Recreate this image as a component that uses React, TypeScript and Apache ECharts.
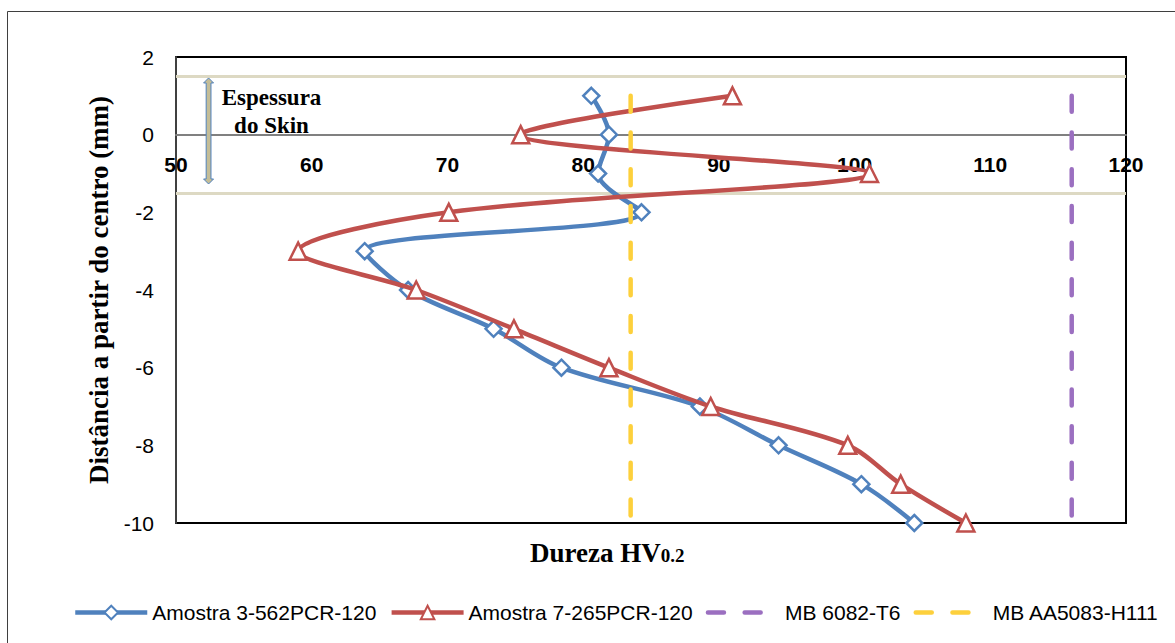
import React, { useEffect, useRef } from "react";
import * as echarts from "echarts";

// ---- data ----
const depthMm = [1, 0, -1, -2, -3, -4, -5, -6, -7, -8, -9, -10];
const amostra3Hv = [80.6, 81.9, 81.1, 84.3, 63.9, 67.1, 73.4, 78.4, 88.6, 94.4, 100.5, 104.4];
const amostra7Hv = [91.0, 75.4, 101.1, 70.1, 59.0, 67.7, 74.9, 81.9, 89.4, 99.5, 103.4, 108.2];
const mb6082Hv = 116;
const mb5083Hv = 83.5;
const baseMetalDepthRange = [1, -10];
const skinLimits = [1.5, -1.5];
const seriesNames = ["Amostra 3-562PCR-120", "Amostra 7-265PCR-120", "MB 6082-T6", "MB AA5083-H111"];
const xRange = { min: 50, max: 120, interval: 10 };
const yRange = { min: -10, max: 2, interval: 2 };
const xAxisCrossesAt = 0;
const arrowSpan = { x: 52.4, top: 1.46, bottom: -1.27 };

const SANS = "'Liberation Sans', Arial, sans-serif";
const SERIF = "'Liberation Serif', 'Times New Roman', serif";

export default function App() {
  const ref = useRef<HTMLDivElement>(null);

  useEffect(() => {
    if (!ref.current) return;
    const chart = echarts.init(ref.current, null, { renderer: "svg" });

    const pts = (xs: number[]) => xs.map((x, i) => [x, depthMm[i]]);
    const vline = (x: number) => baseMetalDepthRange.map((y) => [x, y]);

    const option: any = {
      animation: false,
      backgroundColor: "#ffffff",
      grid: {
        left: 176,
        top: 57,
        right: 49,
        bottom: 120,
        show: true,
        borderColor: "#000000",
        borderWidth: 2,
        backgroundColor: "transparent",
      },
      xAxis: {
        type: "value",
        position: "bottom",
        min: xRange.min,
        max: xRange.max,
        interval: xRange.interval,
        axisLine: { show: true, onZero: false, lineStyle: { color: "#808080", width: 2 } },
        axisTick: { show: false },
        splitLine: { show: false },
        axisLabel: {
          fontFamily: SANS,
          fontSize: 21,
          fontWeight: "bold",
          color: "#000000",
          margin: 19,
        },
        z: 1,
      },
      yAxis: {
        type: "value",
        min: yRange.min,
        max: yRange.max,
        interval: yRange.interval,
        name: "Distância a partir do centro (mm)",
        nameLocation: "middle",
        nameRotate: 90,
        nameGap: 56,
        nameTextStyle: {
          fontFamily: SERIF,
          fontSize: 27,
          fontWeight: "bold",
          color: "#000000",
        },
        axisLine: { show: true, lineStyle: { color: "#404040", width: 2 } },
        axisTick: { show: false },
        splitLine: { show: false },
        axisLabel: {
          fontFamily: SANS,
          fontSize: 21,
          color: "#000000",
          margin: 22,
        },
      },
      legend: {
        left: 73,
        top: 602,
        padding: 0,
        itemWidth: 72,
        itemHeight: 17,
        itemGap: 13,
        lineStyle: { width: 4.5 },
        textStyle: { fontFamily: SANS, fontSize: 21, color: "#000000" },
        data: [
          { name: seriesNames[0] },
          { name: seriesNames[1] },
          { name: seriesNames[2], itemStyle: { opacity: 0 } },
          { name: seriesNames[3], itemStyle: { opacity: 0 } },
        ],
      },
      series: [
        {
          name: seriesNames[0],
          type: "line",
          data: pts(amostra3Hv),
          smooth: 0.33,
          symbol: "diamond",
          symbolSize: 16,
          lineStyle: { color: "#4f81bd", width: 4.5 },
          itemStyle: { color: "#ffffff", borderColor: "#4f81bd", borderWidth: 2.5 },
          z: 3,
          markLine: {
            silent: true,
            symbol: "none",
            label: { show: false },
            lineStyle: { color: "#ddd9c3", width: 3, type: "solid" },
            data: skinLimits.map((y) => ({ yAxis: y })),
            z: 1,
          },
        },
        {
          name: seriesNames[1],
          type: "line",
          data: pts(amostra7Hv),
          smooth: 0.33,
          symbol: "triangle",
          symbolSize: 17,
          lineStyle: { color: "#c0504d", width: 4.5 },
          itemStyle: { color: "#ffffff", borderColor: "#c0504d", borderWidth: 2.5 },
          z: 4,
        },
        {
          name: seriesNames[2],
          type: "line",
          data: vline(mb6082Hv),
          symbol: "none",
          lineStyle: { color: "#9b6fc0", width: 4.5, type: [16, 20.7], cap: "round" },
          itemStyle: { color: "#9b6fc0" },
          z: 5,
        },
        {
          name: seriesNames[3],
          type: "line",
          data: vline(mb5083Hv),
          symbol: "none",
          lineStyle: { color: "#fdd03c", width: 4.5, type: [16, 20.7], cap: "round" },
          itemStyle: { color: "#fdd03c" },
          z: 5,
        },
      ],
    };

    chart.setOption(option);

    // move the x axis so that it crosses the y axis at depth 0 (labels follow it)
    const yBottom = chart.convertToPixel({ yAxisIndex: 0 }, yRange.min) as number;
    const yCross = chart.convertToPixel({ yAxisIndex: 0 }, xAxisCrossesAt) as number;
    chart.setOption({ xAxis: { offset: -(yBottom - yCross) } });

    const ax = chart.convertToPixel({ xAxisIndex: 0 }, arrowSpan.x) as number;
    const ay0 = chart.convertToPixel({ yAxisIndex: 0 }, arrowSpan.top) as number;
    const ay1 = chart.convertToPixel({ yAxisIndex: 0 }, arrowSpan.bottom) as number;
    const hw = 2.4; // shaft half width
    const hh = 5; // head half width
    const hl = 5; // head length

    chart.setOption({
      graphic: [
        {
          type: "rect",
          shape: { x: 7.5, y: 11.5, width: 1200, height: 700 },
          style: { fill: "none", stroke: "#3f3f3f", lineWidth: 1 },
          silent: true,
          z: 0,
        },
        {
          type: "polygon",
          shape: {
            points: [
              [ax, ay0],
              [ax + hh, ay0 + hl],
              [ax + hw, ay0 + hl],
              [ax + hw, ay1 - hl],
              [ax + hh, ay1 - hl],
              [ax, ay1],
              [ax - hh, ay1 - hl],
              [ax - hw, ay1 - hl],
              [ax - hw, ay0 + hl],
              [ax - hh, ay0 + hl],
            ],
          },
          style: { fill: "#c4bd97", stroke: "#4f81bd", lineWidth: 1 },
          silent: true,
          z: 10,
        },
        {
          type: "text",
          x: 271.5,
          y: 83,
          style: {
            text: "Espessura\ndo Skin",
            fontFamily: SERIF,
            fontSize: 23,
            fontWeight: "bold",
            fill: "#000000",
            align: "center",
            lineHeight: 28,
          },
          silent: true,
          z: 10,
        },
        {
          type: "text",
          x: 530,
          y: 536,
          style: {
            text: "{a|Dureza HV}{b|0.2}",
            fill: "#000000",
            rich: {
              a: { fontFamily: SERIF, fontSize: 27, fontWeight: "bold", verticalAlign: "bottom", lineHeight: 30 },
              b: { fontFamily: SERIF, fontSize: 19, fontWeight: "bold", verticalAlign: "bottom", lineHeight: 30, padding: [0, 0, 1, 0] },
            },
          },
          silent: true,
          z: 10,
        },
      ],
    });

    return () => chart.dispose();
  }, []);

  return (
    <div
      ref={ref}
      style={{ position: "absolute", left: 0, top: 0, width: 1175, height: 643, background: "#fff" }}
    />
  );
}
